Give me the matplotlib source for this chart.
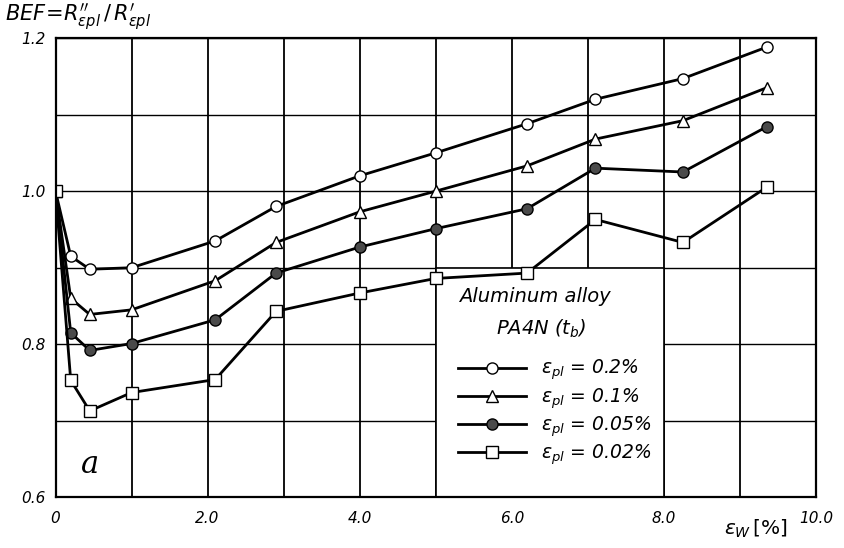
import matplotlib
matplotlib.use("Agg")
import matplotlib.pyplot as plt
from matplotlib.patches import Rectangle
from matplotlib.lines import Line2D

# ---- data ----
eps_w = [0.0, 0.2, 0.45, 1.0, 2.1, 2.9, 4.0, 5.0, 6.2, 7.1, 8.25, 9.35]
bef_02 = [1.0, 0.915, 0.898, 0.900, 0.935, 0.980, 1.020, 1.050, 1.088, 1.120, 1.147, 1.188]
bef_01 = [1.0, 0.860, 0.839, 0.845, 0.883, 0.933, 0.973, 1.000, 1.033, 1.068, 1.092, 1.135]
bef_005 = [1.0, 0.815, 0.792, 0.801, 0.832, 0.893, 0.927, 0.951, 0.977, 1.030, 1.025, 1.084]
bef_002 = [1.0, 0.753, 0.713, 0.737, 0.754, 0.843, 0.867, 0.886, 0.893, 0.963, 0.933, 1.005]

series_labels = ["0.2%", "0.1%", "0.05%", "0.02%"]
x_ticks = [0, 2, 4, 6, 8, 10]
x_ticklabels = ["0", "2.0", "4.0", "6.0", "8.0", "10.0"]
y_ticks = [0.6, 0.8, 1.0, 1.2]
y_ticklabels = ["0.6", "0.8", "1.0", "1.2"]

plt.rcParams['font.family'] = ['DejaVu Sans']
plt.rcParams['mathtext.fontset'] = 'dejavusans'

fig = plt.figure(figsize=(8.45, 5.48), dpi=100)
ax = fig.add_axes([0.0657, 0.0922, 0.900, 0.8385])

ax.set_xlim(0, 10)
ax.set_ylim(0.6, 1.2)

# grid
for gx in range(0, 11):
    ax.axvline(gx, color='black', lw=1.3, zorder=1)
for i in range(0, 7):
    ax.axhline(0.6 + 0.1 * i, color='black', lw=1.0, zorder=1)

# white legend area covering the grid
ax.add_patch(Rectangle((5.0, 0.6), 3.0, 0.3, facecolor='white',
                       edgecolor='black', lw=1.2, zorder=2))

styles = [
    dict(marker='o', mfc='white'),
    dict(marker='^', mfc='white'),
    dict(marker='o', mfc='#4a4a4a'),
    dict(marker='s', mfc='white'),
]
all_series = [bef_02, bef_01, bef_005, bef_002]
handles = []
for ys, st, lab in zip(all_series, styles, series_labels):
    ax.plot(eps_w, ys, color='black', lw=2.0, marker=st['marker'],
            mfc=st['mfc'], mec='black', mew=1.0, ms=8, zorder=4)
    handles.append(Line2D([0], [0], color='black', lw=2.0, marker=st['marker'],
                          mfc=st['mfc'], mec='black', mew=1.0, ms=8))

for sp in ax.spines.values():
    sp.set_linewidth(1.6)
    sp.set_zorder(5)

ax.set_xticks(x_ticks)
ax.set_xticklabels(x_ticklabels, fontsize=11, fontstyle='italic')
ax.set_yticks(y_ticks)
ax.set_yticklabels(y_ticklabels, fontsize=11, fontstyle='italic')
ax.tick_params(axis='x', length=0, pad=10)
ax.tick_params(axis='y', length=0, pad=7)

# legend text
ax.text(6.3, 0.862, "Aluminum alloy", fontsize=14, fontstyle='italic',
        ha='center', va='center', zorder=6)
ax.text(6.38, 0.82, r"PA4N ($t_b$)", fontsize=14, fontstyle='italic',
        ha='center', va='center', zorder=6)
leg = ax.legend(handles,
                [r"$\varepsilon_{pl}$ = " + s for s in series_labels],
                loc='upper left', bbox_to_anchor=(5.2, 0.792),
                bbox_transform=ax.transData, frameon=False,
                fontsize=13.5, handlelength=3.6, labelspacing=0.2,
                handletextpad=0.8, borderaxespad=0)
for t in leg.get_texts():
    t.set_fontstyle('italic')
leg.set_zorder(6)

# panel mark
ax.text(0.45, 0.643, "a", fontsize=22, fontstyle='italic', fontfamily='DejaVu Serif',
        ha='center', va='center', zorder=6)

# axis titles
fig.text(0.006, 0.996, r"$BEF\!=\!R^{\prime\prime}_{\varepsilon pl}\,/\,R^{\prime}_{\varepsilon pl}$",
         fontsize=15, ha='left', va='top')
fig.text(0.895, 0.035, r"$\varepsilon_W\,[\%]$", fontsize=14.5, ha='center', va='center')

fig.savefig("out.png", dpi=100)
